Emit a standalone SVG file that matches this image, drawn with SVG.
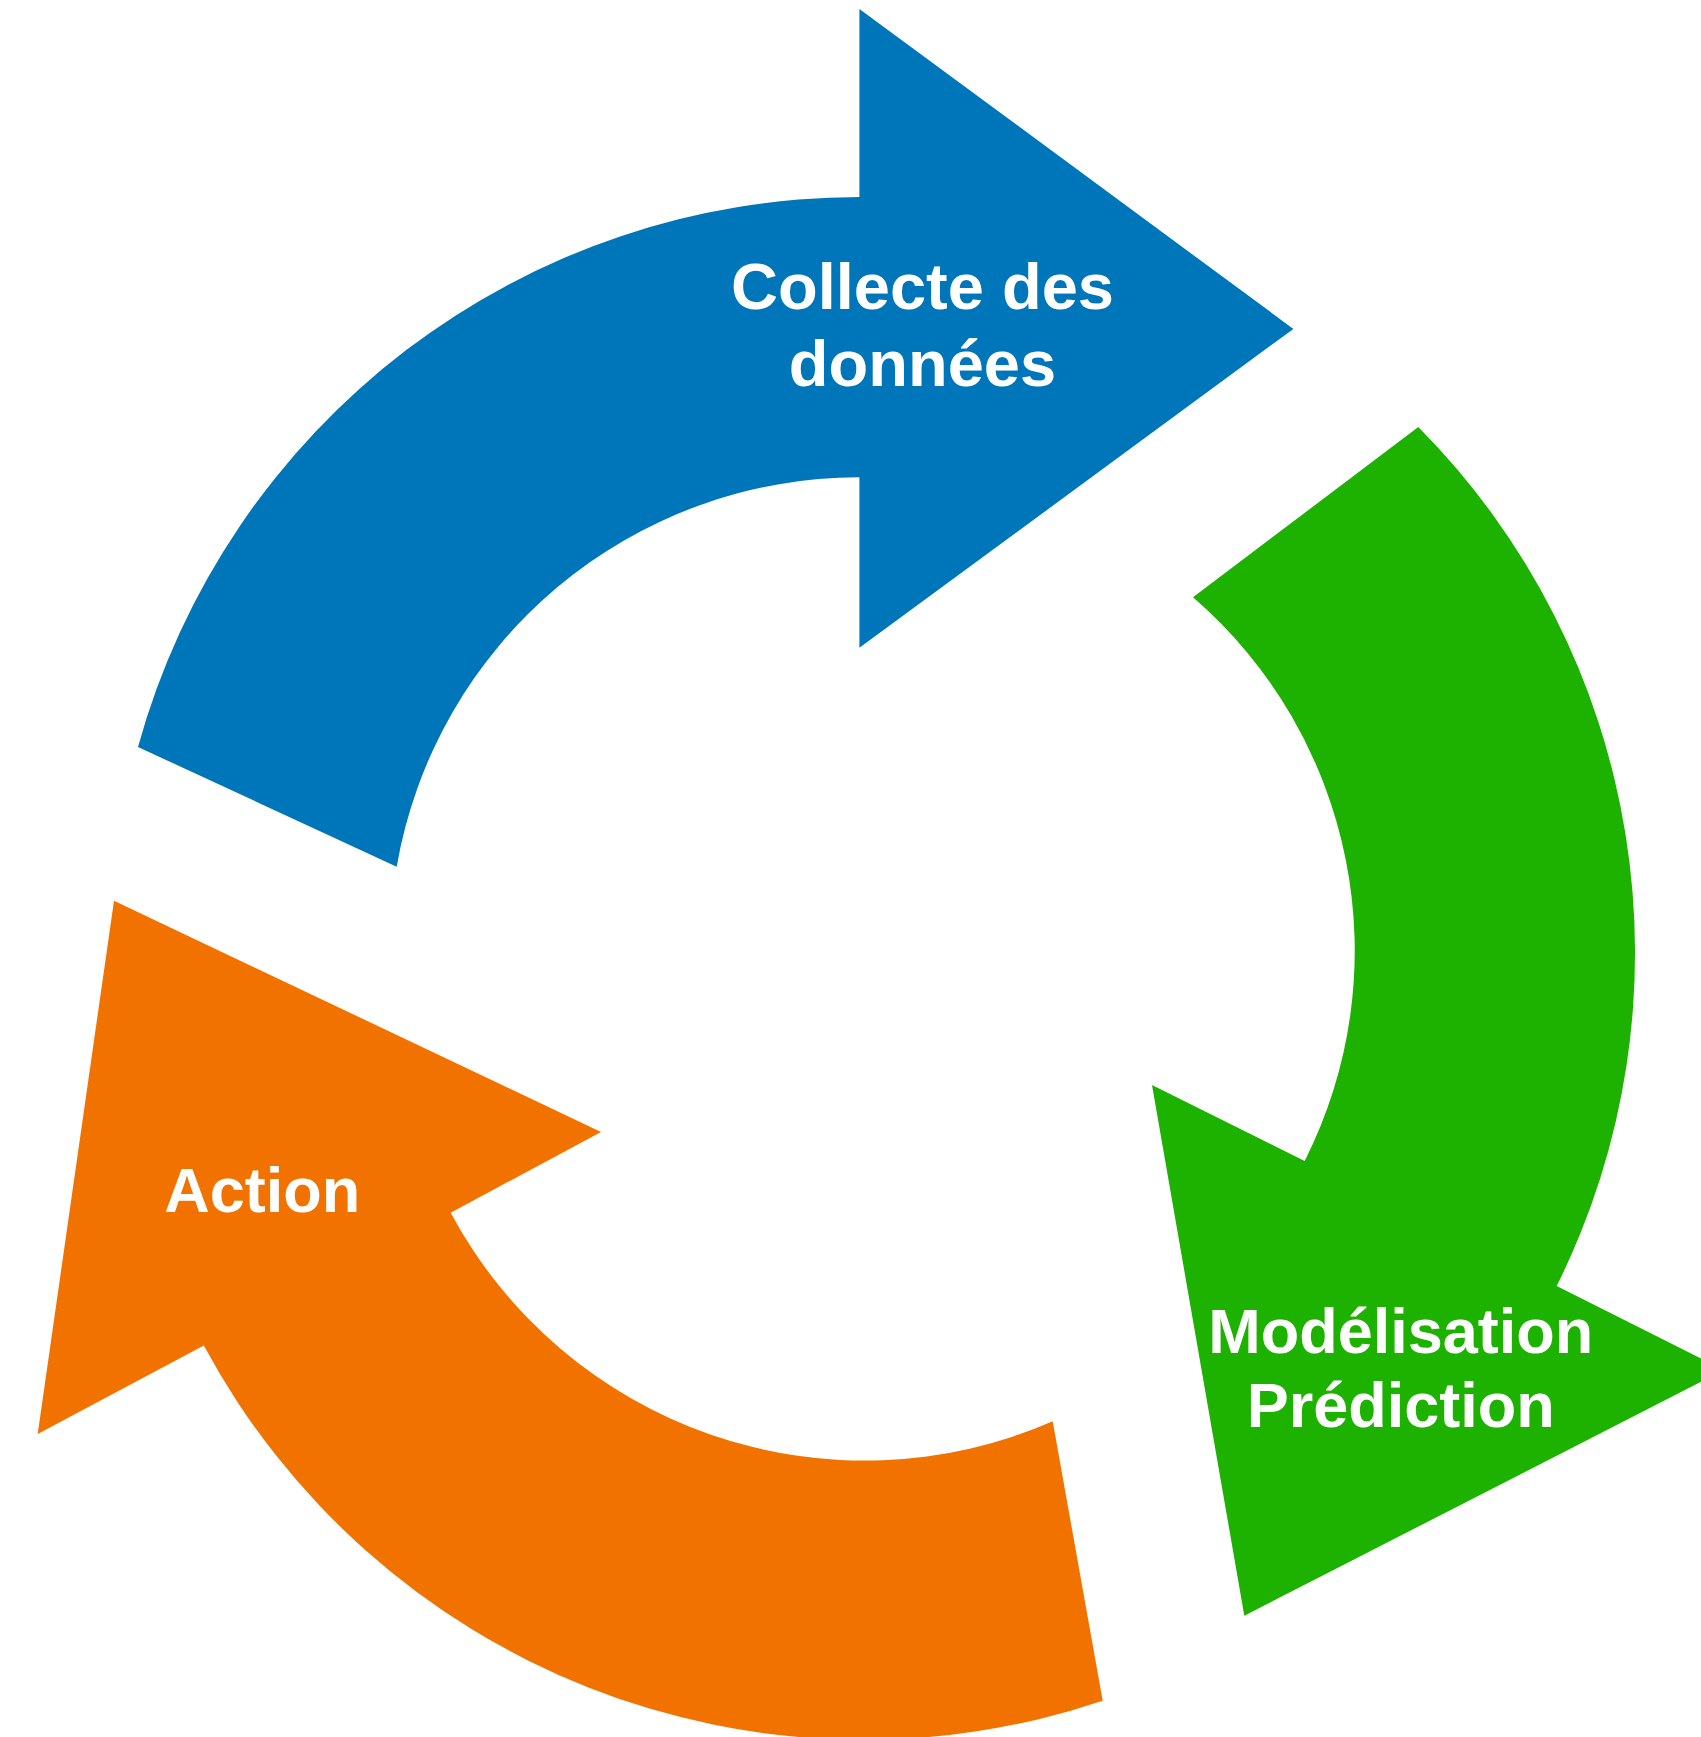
<svg xmlns="http://www.w3.org/2000/svg" width="1701" height="1737" viewBox="0 0 1701 1737">
  <style>
    .lbl { font-family: "Liberation Sans", Arial, sans-serif; font-weight: bold; fill: #FFFFFF; text-anchor: middle; }
    .blue { fill: #0076BA; }
    .green { fill: #1DB100; }
    .orange { fill: #F27200; }
  </style>
  <rect x="0" y="0" width="1701" height="1737" fill="#FFFFFF"/>
  <g id="collecte">
    <path class="blue" d="M859.4,8.9 L1293.4,328.9 L859.4,647.8 L859.4,477.3 A469.3,469.3 0 0 0 396.7,866.7 L138,747 A748.5,748.5 0 0 1 859.4,197.1 Z"/>
    <text class="lbl" font-size="65" x="922.5" y="309.3">Collecte des</text>
    <text class="lbl" font-size="65" x="922.5" y="385.7">données</text>
  </g>
  <g id="modelisation">
    <path class="green" d="M1418.3,427 A746.8,746.8 0 0 1 1556.7,1286 L1724,1370 L1244.3,1615.7 L1152,1085 L1304.7,1161 A467,467 0 0 0 1193,597.3 Z"/>
    <text class="lbl" font-size="63" x="1400.7" y="1352.7">Modélisation</text>
    <text class="lbl" font-size="63" x="1400.7" y="1426.7">Prédiction</text>
  </g>
  <g id="action">
    <path class="orange" d="M114,900.7 L601,1132 L450.7,1212.7 A469.6,469.6 0 0 0 1052.7,1421.3 L1102.7,1700.7 A749.3,749.3 0 0 1 203.8,1345.5 L37.7,1434 Z"/>
    <text class="lbl" font-size="63" x="262.2" y="1211.7">Action</text>
  </g>
  <g id="connectors"/>
</svg>
